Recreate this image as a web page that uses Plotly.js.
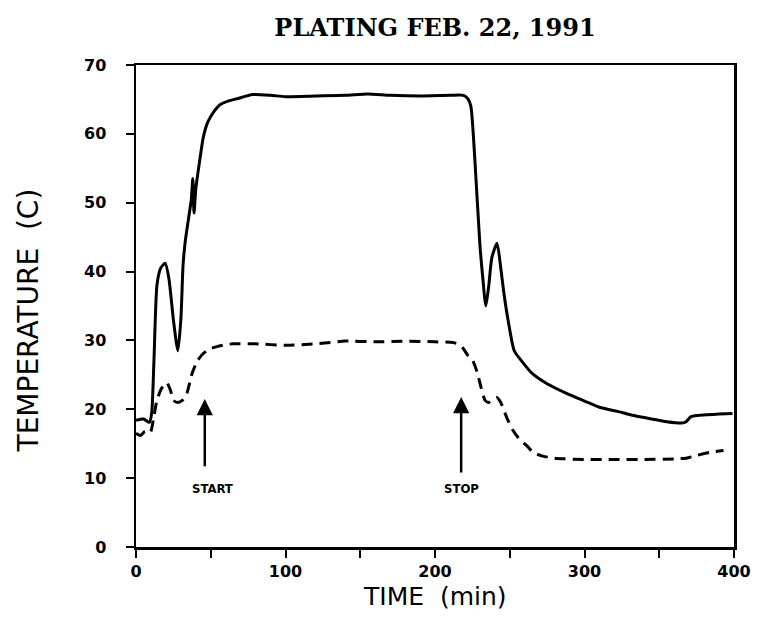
<!DOCTYPE html>
<html>
<head>
<meta charset="utf-8">
<script src="https://cdn.plot.ly/plotly-3.0.1.min.js"></script>
<style>html,body{margin:0;padding:0;background:#fff;}#chart{width:758px;height:622px;}</style>
</head>
<body>
<div id="chart"></div>
<script>
// Solid curve (plating bath temperature)
const solidTime = [0, 5, 9, 10.5, 12, 14, 16.5, 19.5, 22, 25, 28, 30, 31.5, 33, 35, 37, 38, 38.8, 40, 42.8, 45, 48, 52, 56, 62, 67.5, 78, 90, 100, 120, 140, 155, 170, 190, 210, 219, 222, 224, 227, 230, 232, 234, 236, 238, 241.5, 244, 246, 249, 253, 258, 265, 275, 288, 300, 310, 322, 333, 345, 355, 365, 368, 371, 376, 382, 390, 399];
const solidTemp = [18.4, 18.6, 18.1, 19.5, 27, 38, 40.5, 41.2, 39, 33, 28.5, 33, 41, 44.5, 47.5, 50.5, 53.5, 48.5, 52, 56.4, 59.5, 61.7, 63.2, 64.2, 64.8, 65.1, 65.7, 65.6, 65.4, 65.5, 65.6, 65.8, 65.6, 65.5, 65.6, 65.6, 65.1, 64, 55, 44, 39, 35, 38, 42, 44.1, 40.5, 37, 32.8, 28.5, 27, 25.2, 23.7, 22.3, 21.2, 20.3, 19.7, 19.1, 18.6, 18.2, 18, 18.2, 18.9, 19.1, 19.2, 19.3, 19.4];

// Dashed curve
const dashTime = [0, 3, 6, 9.5, 12, 14, 17, 20.5, 23, 25, 28, 31, 34, 37.5, 41, 45, 50, 54, 60, 65, 80, 100, 120, 140, 160, 180, 200, 212, 216, 219, 222, 225, 228, 231, 233.5, 236, 239, 241.5, 244, 248, 252, 256, 261, 266, 272, 280, 300, 320, 340, 360, 368, 375, 385, 393];
const dashTemp = [16.5, 16.2, 16.8, 16.6, 19, 21.3, 23, 23.9, 22.8, 21.3, 21, 21.3, 22.3, 25.2, 27, 28.1, 28.8, 29.1, 29.4, 29.5, 29.5, 29.3, 29.5, 29.9, 29.8, 29.9, 29.8, 29.7, 29.4, 28.8, 27.8, 27.2, 25.5, 23, 21.3, 21, 21.5, 21.7, 21, 18.8, 17, 15.8, 14.8, 13.7, 13.2, 12.9, 12.7, 12.7, 12.7, 12.8, 12.9, 13.3, 13.8, 14];

// Event markers
const eventLabels = ["START", "STOP"];
const eventTime = [46, 217.5];
const arrowTip = [21.5, 21.8];
const arrowTail = [11.5, 10.6];
const labelTemp = [8.5, 8.5];
const labelTime = [51, 218];

const xTicks = [0, 100, 200, 300, 400];
const yTicks = [0, 10, 20, 30, 40, 50, 60, 70];
const xTitle = 'TIME  (min)';
const yTitle = 'TEMPERATURE  (C)';

const traces = [
  {x: solidTime, y: solidTemp, mode: 'lines', type: 'scatter',
   line: {color: '#000', width: 3, shape: 'spline', smoothing: 0.6}, hoverinfo: 'skip'},
  {x: dashTime, y: dashTemp, mode: 'lines', type: 'scatter',
   line: {color: '#000', width: 3, dash: '11px,7px', shape: 'spline', smoothing: 0.6}, hoverinfo: 'skip'}
];

const annotations = [];
for (let i = 0; i < eventLabels.length; i++) {
  annotations.push({
    x: eventTime[i], y: arrowTip[i], xref: 'x', yref: 'y',
    ax: eventTime[i], ay: arrowTail[i], axref: 'x', ayref: 'y',
    text: '', showarrow: true, arrowhead: 2, arrowsize: 1.3, arrowwidth: 2.5, arrowcolor: '#000'
  });
  annotations.push({
    x: labelTime[i], y: labelTemp[i], xref: 'x', yref: 'y',
    text: '<b>' + eventLabels[i] + '</b>', showarrow: false,
    font: {family: 'DejaVu Sans Condensed, DejaVu Sans', size: 13, color: '#000'}
  });
}
// axis titles placed as annotations for exact positioning
annotations.push({
  text: xTitle, xref: 'paper', yref: 'paper', x: 0.5, y: 0, yanchor: 'middle', yshift: -49,
  showarrow: false, font: {family: 'DejaVu Sans', size: 25, color: '#000'}
});
annotations.push({
  text: yTitle, xref: 'paper', yref: 'paper', x: 0, y: 0.47, xanchor: 'center', yanchor: 'middle',
  xshift: -108, textangle: -90,
  showarrow: false, font: {family: 'DejaVu Sans', size: 28, color: '#000'}
});

const axisCommon = {
  showline: true, linecolor: '#000', linewidth: 2.5, mirror: true,
  showgrid: false, zeroline: false, ticks: 'outside', tickcolor: '#000',
  tickwidth: 2, ticklen: 8,
  tickfont: {family: 'DejaVu Sans', size: 16, color: '#000', weight: 'bold'}
};

const layout = {
  width: 758, height: 622,
  paper_bgcolor: '#fff', plot_bgcolor: '#fff',
  margin: {l: 136, r: 24, t: 65, b: 75},
  showlegend: false,
  title: {text: '<b>PLATING FEB. 22, 1991</b>', x: 0.5, xref: 'paper', y: 0.955, yref: 'container', yanchor: 'middle',
          font: {family: 'DejaVu Serif', size: 24, color: '#000'}},
  xaxis: Object.assign({}, axisCommon, {
    range: [0, 400], tickvals: xTicks, ticktext: xTicks.map(String),
    minor: {dtick: 50, tick0: 0, ticks: 'outside', ticklen: 8, tickwidth: 2, tickcolor: '#000'}
  }),
  yaxis: Object.assign({}, axisCommon, {
    range: [0, 70], tickvals: yTicks, ticktext: yTicks.map(String), ticklabelstandoff: 16
  }),
  annotations: annotations
};

Plotly.newPlot('chart', traces, layout, {displayModeBar: false, staticPlot: true});
</script>
</body>
</html>
